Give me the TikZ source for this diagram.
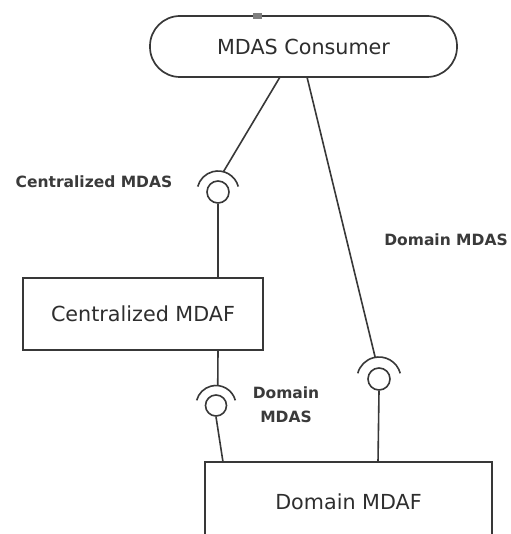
\documentclass[tikz,border=0pt]{standalone}
\usepackage{fontspec}
\setmainfont{DejaVu Sans}
\usetikzlibrary{calc}
\definecolor{linec}{HTML}{383838}
\definecolor{textc}{HTML}{2E2E2E}
\definecolor{lblc}{HTML}{3A3A3A}
\definecolor{markc}{HTML}{7F7F7F}
\begin{document}
\begin{tikzpicture}[x=1pt,y=1pt,
  conn/.style={draw=linec, line width=1.6pt},
  boxtext/.style={font=\fontsize{20.7}{24}\selectfont, text=textc},
  lbl/.style={font=\bfseries\fontsize{15.5}{24}\selectfont, text=lblc, align=center},
  compbox/.style={draw=linec, line width=1.7pt, fill=white, inner sep=0pt, boxtext},
  ball/.style={circle, draw=linec, line width=1.6pt, fill=white, inner sep=0pt}]
\useasboundingbox (0,0) rectangle (510,-534);
\fill[white] (0,0) rectangle (510,-534);

% components
\node[compbox, rounded corners=30pt, minimum width=307pt, minimum height=61pt] (cons) at (303.5,-46.5) {MDAS Consumer};
\node[fill=markc, inner sep=0pt, minimum width=9pt, minimum height=6pt] (mark) at (257,-16) {};
\node[compbox, minimum width=240pt, minimum height=72pt] (cmdaf) at (143,-314) {Centralized MDAF};
\node[compbox, minimum width=287pt, minimum height=80pt] (dmdaf) at (348.5,-502) {Domain MDAF};

% ball-and-socket interfaces
\node[ball, minimum size=22pt] (b1) at (218,-192) {};
\node[ball, minimum size=21pt] (b2) at (216,-405.5) {};
\node[ball, minimum size=22pt] (b3) at (379,-379) {};
\draw[conn] ($(b1.center)+(15:21pt)$) arc[start angle=15, end angle=165, radius=21pt];
\draw[conn] ($(b2.center)+(15:20pt)$) arc[start angle=15, end angle=165, radius=20pt];
\draw[conn] ($(b3.center)+(15:22pt)$) arc[start angle=15, end angle=165, radius=22pt];
\coordinate (s1) at ($(b1.center)+(75:21pt)$);
\coordinate (s2) at ($(b2.center)+(85:20pt)$);
\coordinate (s3) at ($(b3.center)+(100:22pt)$);

% connector ends on the components
\coordinate (c1) at (280,-77);
\coordinate (c2) at (307,-77);
\coordinate (m1) at (218,-278);
\coordinate (m2) at (218,-350);
\coordinate (d1) at (223,-462);
\coordinate (d2) at (378,-462);

% connectors
\draw[conn] (c1) -- (s1);
\draw[conn] (c2) -- (s3);
\draw[conn] (b1.south) -- (m1);
\draw[conn] (m2) -- (s2);
\draw[conn] (b2.south) -- (d1);
\draw[conn] (b3.south) -- (d2);

% labels
\node[lbl] (l1) at (94,-182) {Centralized MDAS};
\node[lbl] (l2) at (446,-240) {Domain MDAS};
\node[lbl] (l3) at (286,-405) {Domain\\MDAS};
\end{tikzpicture}
\end{document}
